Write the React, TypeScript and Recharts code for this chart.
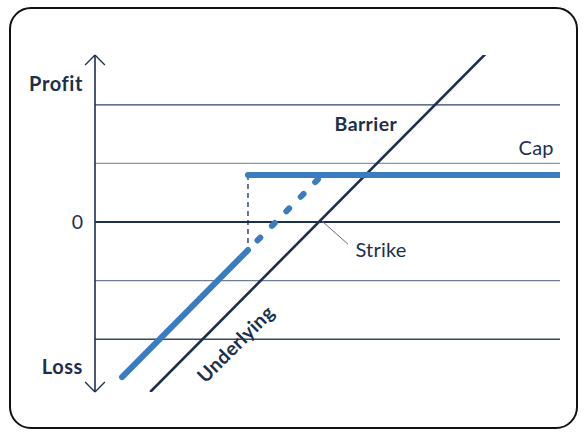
import { LineChart, Line, XAxis, YAxis, ReferenceLine, ReferenceDot } from 'recharts'

const NAVY = '#1c2f4d'
const BLUE = '#3b7bbf'
const FONT = 'Lato, "Open Sans", sans-serif'

// profit axis labels
const axisTicks = [2.36, 0, -2.47]
const axisLabels = ['Profit', '0', 'Loss']

// grid rows (profit levels)
const gridLevels = [2, 1, 0, -1, -2]
const gridColors = ['#2f4567', '#8a94a3', '#1c2f4d', '#6b7d97', '#34496b']

// payoff lines
const underlying = [{ x: 0.95, y: -2.9 }, { x: 6.72, y: 2.87 }]
const belowBarrier = [{ x: 0.465, y: -2.645 }, { x: 2.632, y: -0.478 }]
const aboveBarrier = [{ x: 2.632, y: -0.478 }, { x: 3.91, y: 0.802 }]
const capLine = [{ x: 2.632, y: 0.802 }, { x: 8, y: 0.802 }]

const barrierX = 2.632
const capY = 0.802
const strikeLeader = [{ x: 3.9, y: 0.02 }, { x: 4.35, y: -0.375 }]

const notes = [
  { text: 'Barrier', x: 4.66, y: 1.67, bold: true, rotate: 0 },
  { text: 'Cap', x: 7.59, y: 1.27, bold: false, rotate: 0 },
  { text: 'Strike', x: 4.92, y: -0.47, bold: false, rotate: 0 },
  { text: 'Underlying', x: 2.42, y: -2.08, bold: true, rotate: -45 },
]

const AxisTick = ({ x, y, payload }: any) => {
  const i = axisTicks.indexOf(payload.value)
  const label = axisLabels[i] ?? ''
  const bold = label !== '0'
  return (
    <text x={x - 4} y={y} dy={7} textAnchor="end" fill={NAVY} fontFamily={FONT}
      fontSize={bold ? 20 : 19.5} fontWeight={bold ? 700 : 400} letterSpacing={bold ? 0.6 : 0}>{label}</text>
  )
}

const noteShape = (n: any) => (props: any) => (
  <text x={props.cx} y={props.cy} dy={7} textAnchor="middle" fill={NAVY} fontFamily={FONT}
    fontSize={n.bold ? 19.5 : 20} fontWeight={n.bold ? 700 : 400} letterSpacing={n.bold ? 0.4 : 0.2}
    transform={n.rotate ? `rotate(${n.rotate} ${props.cx} ${props.cy})` : undefined}>{n.text}</text>
)

export default function App() {
  return (
    <div style={{ position: 'fixed', left: 0, top: 0, width: 586, height: 433, background: '#fff' }}>
      <div style={{ position: 'absolute', left: 9, top: 7, width: 569, height: 422, boxSizing: 'border-box', border: '2px solid #111', borderRadius: 22 }} />
      <div style={{ position: 'absolute', left: 0, top: 0 }}>
        <LineChart width={586} height={433} margin={{ top: 55, right: 26, left: 8, bottom: 41 }}>
          <XAxis type="number" dataKey="x" domain={[0, 8]} hide allowDataOverflow />
          <YAxis type="number" dataKey="y" domain={[-2.9, 2.85]} allowDataOverflow width={87}
            ticks={axisTicks} interval={0} axisLine={false} tickLine={false} tick={<AxisTick />} />

          {gridLevels.map((g, i) => (
            <ReferenceLine key={g} y={g} stroke={gridColors[i]} strokeWidth={g === 0 ? 2 : 1.3} ifOverflow="visible" />
          ))}

          {/* y axis with arrow heads */}
          <ReferenceLine segment={[{ x: 0, y: 2.85 }, { x: 0, y: -2.9 }]} stroke={NAVY} strokeWidth={1.6} ifOverflow="visible" />
          <ReferenceLine segment={[{ x: -0.17, y: 2.68 }, { x: 0, y: 2.85 }]} stroke={NAVY} strokeWidth={1.3} ifOverflow="visible" />
          <ReferenceLine segment={[{ x: 0, y: 2.85 }, { x: 0.17, y: 2.68 }]} stroke={NAVY} strokeWidth={1.3} ifOverflow="visible" />
          <ReferenceLine segment={[{ x: -0.17, y: -2.73 }, { x: 0, y: -2.9 }]} stroke={NAVY} strokeWidth={1.3} ifOverflow="visible" />
          <ReferenceLine segment={[{ x: 0, y: -2.9 }, { x: 0.17, y: -2.73 }]} stroke={NAVY} strokeWidth={1.3} ifOverflow="visible" />

          <ReferenceLine segment={[{ x: barrierX, y: capY }, { x: barrierX, y: -0.478 }]} stroke={NAVY} strokeWidth={1.3} strokeDasharray="5 4" ifOverflow="visible" />
          <ReferenceLine segment={strikeLeader} stroke="#5a6b82" strokeWidth={1} ifOverflow="visible" />

          <Line data={underlying} dataKey="y" stroke={NAVY} strokeWidth={2.6} dot={false} isAnimationActive={false} />
          <Line data={belowBarrier} dataKey="y" stroke={BLUE} strokeWidth={6} strokeLinecap="round" dot={false} isAnimationActive={false} />
          <Line data={aboveBarrier} dataKey="y" stroke={BLUE} strokeWidth={6} strokeLinecap="round" strokeDasharray="4 16.5" strokeDashoffset={7} dot={false} isAnimationActive={false} />
          <Line data={capLine} dataKey="y" stroke={BLUE} strokeWidth={6} strokeLinecap="round" dot={false} isAnimationActive={false} />

          {notes.map(n => (
            <ReferenceDot key={n.text} x={n.x} y={n.y} r={0} ifOverflow="visible" shape={noteShape(n)} />
          ))}
        </LineChart>
      </div>
    </div>
  )
}
